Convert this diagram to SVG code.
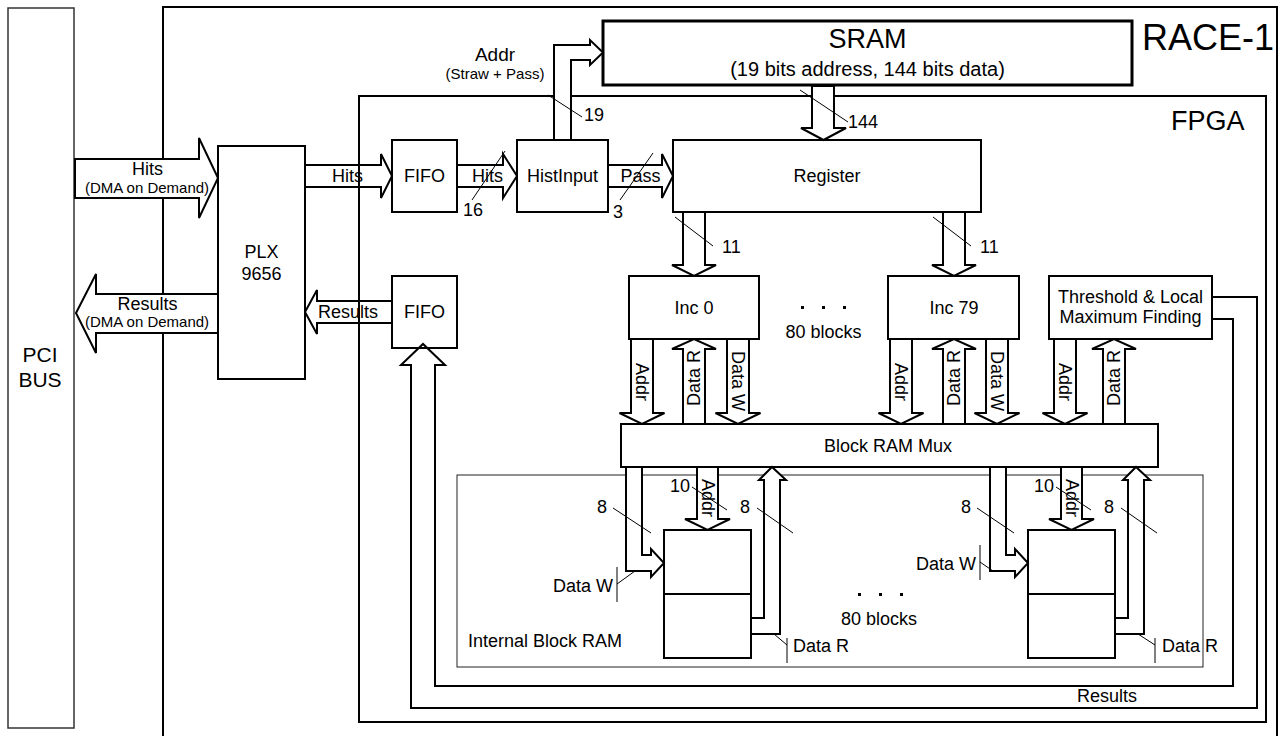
<svg xmlns="http://www.w3.org/2000/svg" width="1288" height="736" viewBox="0 0 1288 736">
<style>
text{font-family:"Liberation Sans",Arial,sans-serif;fill:#000}
.t18{font-size:18px}
.t15{font-size:15px}
.mid{text-anchor:middle}
.end{text-anchor:end}
.box{fill:#fff;stroke:#000;stroke-width:2}
.frame{fill:none;stroke:#000;stroke-width:2}
.thin{fill:none;stroke:#000;stroke-width:1}
.arr{fill:#fff;stroke:#000;stroke-width:2;stroke-linejoin:miter}
.arrn{fill:none;stroke:#000;stroke-width:2}
.sl{stroke:#000;stroke-width:1;fill:none}
</style>
<rect width="1288" height="736" fill="#fff"/>

<!-- frames -->
<g id="pci">
<rect x="8" y="8" width="66" height="720" fill="#fff" stroke="#333" stroke-width="1.5"/>
<text class="mid" x="40" y="362" font-size="21">PCI</text>
<text class="mid" x="40" y="387" font-size="21">BUS</text>
</g>
<g id="race1">
<rect x="163" y="7" width="1114" height="740" class="frame"/>
<text x="1142" y="50" font-size="36">RACE-1</text>
</g>

<!-- big arrows -->
<g id="connectors-outer">
<polygon class="arr" points="75,159 199,159 199,138 218,178 199,218 199,198 75,198"/>
<polygon class="arr" points="218,294 96,294 96,274 76,313 96,353 96,333 218,333"/>
<polygon class="arr" points="305,165 381,165 381,154 392,176 381,198 381,187 305,187"/>
<polygon class="arr" points="392,301 317,301 317,290 305,312 317,334 317,323 392,323"/>
</g>

<g id="fpga-frame">
<rect x="359" y="96" width="907" height="626" class="frame"/>
<text x="1171" y="130" font-size="27">FPGA</text>
</g>
<g id="internal-ram-frame">
<rect x="457" y="475" width="746" height="192" fill="none" stroke="#222" stroke-width="1"/>
<text class="t18" x="468" y="647">Internal Block RAM</text>
</g>

<!-- nodes -->
<g id="sram">
<rect x="603" y="21" width="529" height="64" fill="#fff" stroke="#000" stroke-width="3"/>
<text class="mid" x="867.5" y="48" font-size="27">SRAM</text>
<text class="mid" x="867.5" y="76" font-size="20">(19 bits address, 144 bits data)</text>
</g>
<g id="plx">
<rect class="box" x="218" y="146" width="87" height="233"/>
<text class="mid t18" x="261.5" y="258">PLX</text>
<text class="mid t18" x="261.5" y="280">9656</text>
</g>
<g id="fifo-in">
<rect class="box" x="392" y="140" width="65" height="72"/>
<text class="mid t18" x="424.5" y="182">FIFO</text>
</g>
<g id="fifo-out">
<rect class="box" x="392" y="276" width="65" height="72"/>
<text class="mid t18" x="424.5" y="318">FIFO</text>
</g>
<g id="histinput">
<rect class="box" x="517" y="140" width="91" height="72"/>
<text class="mid t18" x="562.5" y="182">HistInput</text>
</g>
<g id="register">
<rect class="box" x="673" y="140" width="308" height="72"/>
<text class="mid t18" x="827" y="182">Register</text>
</g>
<g id="inc0">
<rect class="box" x="629" y="276" width="130" height="63"/>
<text class="mid t18" x="694" y="314">Inc 0</text>
</g>
<g id="inc79">
<rect class="box" x="888" y="276" width="131" height="63"/>
<text class="mid t18" x="954" y="314">Inc 79</text>
</g>
<g id="threshold">
<rect class="box" x="1049" y="276" width="163" height="63"/>
<text class="mid t18" x="1130.5" y="303">Threshold &amp; Local</text>
<text class="mid t18" x="1130.5" y="323">Maximum Finding</text>
</g>
<g id="mux">
<rect class="box" x="621" y="424" width="537" height="43"/>
<text class="mid t18" x="888" y="452">Block RAM Mux</text>
</g>
<g id="ram0">
<rect class="box" x="664" y="530" width="87" height="128"/>
<line class="arrn" x1="664" y1="594" x2="751" y2="594"/>
</g>
<g id="ram79">
<rect class="box" x="1028" y="530" width="87" height="128"/>
<line class="arrn" x1="1028" y1="594" x2="1115" y2="594"/>
</g>

<!-- connectors -->
<g id="connectors">
<!-- top flow -->
<polygon class="arr" points="457,165 503,165 503,154 517,176 503,198 503,187 457,187"/>
<polygon class="arr" points="608,165 662,165 662,154 673,176 662,198 662,187 608,187"/>
<polygon class="arr" points="554,140 554,45 590,45 590,40 603,52.5 590,65 590,60 571,60 571,140"/>
<polygon class="arr" points="812,86 812,128 801,128 823.5,140 846,128 834,128 834,86"/>
<polygon class="arr" points="683,212 683,265 672,265 694,276 716,265 705,265 705,212"/>
<polygon class="arr" points="943,212 943,265 932,265 954,276 976,265 965,265 965,212"/>

<!-- inc 0 -->
<polygon class="arr" points="631,339 631,413 619.5,413 642,424 664.5,413 653,413 653,339"/>
<polygon class="arr" points="683,424 683,349 672,349 694,339 716,349 705,349 705,424"/>
<polygon class="arr" points="727,339 727,413 715.5,413 738,424 760.5,413 749,413 749,339"/>
<!-- inc 79 -->
<polygon class="arr" points="890,339 890,413 878.5,413 901,424 923.5,413 912,413 912,339"/>
<polygon class="arr" points="943,424 943,349 932,349 954,339 976,349 965,349 965,424"/>
<polygon class="arr" points="986,339 986,413 974.5,413 997,424 1019.5,413 1008,413 1008,339"/>
<!-- threshold -->
<polygon class="arr" points="1054,339 1054,413 1042.5,413 1065,424 1087.5,413 1076,413 1076,339"/>
<polygon class="arr" points="1103,424 1103,349 1092,349 1114,339 1136,349 1125,349 1125,424"/>

<!-- results loop -->
<polygon class="arrn" points="411,708 411,365 401,365 423,344 445,365 435,365 435,686 1233,686 1233,319 1212,319 1212,297 1257,297 1257,708"/>
<text class="mid t18" x="1107" y="702">Results</text>

<!-- RAM 0 -->
<polygon class="arr" points="626,467 626,571 651,571 651,577 664,563 651,549 651,555 642,555 642,467"/>
<polygon class="arr" points="697,467 697,519 685,519 707.5,530 730,519 718,519 718,467"/>
<polygon class="arr" points="751,618 764,618 764,480 759,480 772,467 786,480 780,480 780,634 751,634"/>
<!-- RAM 79 -->
<polygon class="arr" points="990,467 990,571 1015,571 1015,577 1028,563 1015,549 1015,555 1006,555 1006,467"/>
<polygon class="arr" points="1061,467 1061,519 1049,519 1071.5,530 1094,519 1082,519 1082,467"/>
<polygon class="arr" points="1115,618 1128,618 1128,480 1123,480 1136,467 1150,480 1144,480 1144,634 1115,634"/>

<!-- bus width slashes -->
<line class="sl" x1="505" y1="151" x2="472" y2="200"/>
<line class="sl" x1="548" y1="95" x2="582" y2="117"/>
<line class="sl" x1="653" y1="153" x2="620" y2="200"/>
<line class="sl" x1="800" y1="90" x2="848" y2="122"/>
<line class="sl" x1="675" y1="217" x2="713" y2="246"/>
<line class="sl" x1="933" y1="217" x2="971" y2="246"/>
<line class="sl" x1="613" y1="508" x2="651" y2="533"/>
<line class="sl" x1="757" y1="508" x2="793" y2="533"/>
<line class="sl" x1="692" y1="487" x2="727" y2="510"/>
<line class="sl" x1="977" y1="508" x2="1014" y2="533"/>
<line class="sl" x1="1121" y1="508" x2="1157" y2="533"/>
<line class="sl" x1="1056" y1="487" x2="1091" y2="510"/>
<!-- leader lines -->
<line class="sl" x1="617" y1="567" x2="617" y2="602" stroke-width="1.5"/>
<line class="sl" x1="617" y1="584" x2="635" y2="571"/>
<line class="sl" x1="980" y1="545" x2="980" y2="580" stroke-width="1.5"/>
<line class="sl" x1="980" y1="562" x2="993" y2="571"/>
<line class="sl" x1="774" y1="634" x2="787" y2="645"/>
<line class="sl" x1="787" y1="638" x2="787" y2="663" stroke-width="1.5"/>
<line class="sl" x1="1138" y1="634" x2="1155" y2="645"/>
<line class="sl" x1="1155" y1="638" x2="1155" y2="663" stroke-width="1.5"/>
</g>

<!-- labels -->
<g id="labels">
<text class="mid t18" x="147.5" y="175">Hits</text>
<text class="mid t15" x="147" y="193">(DMA on Demand)</text>
<text class="mid t18" x="147.5" y="310">Results</text>
<text class="mid t15" x="147" y="327">(DMA on Demand)</text>
<text class="mid t18" x="347.5" y="182">Hits</text>
<text class="mid t18" x="348" y="318">Results</text>
<text class="mid t18" x="487.5" y="182">Hits</text>
<text class="mid t18" x="640.5" y="182">Pass</text>
<text class="t18" x="463" y="216">16</text>
<text class="t18" x="613" y="218">3</text>
<text class="t18" x="584" y="121">19</text>
<text class="mid" x="495" y="61" font-size="19">Addr</text>
<text class="mid t15" x="495" y="79">(Straw + Pass)</text>
<text class="t18" x="848" y="128">144</text>
<text class="t18" x="722" y="253">11</text>
<text class="t18" x="980" y="253">11</text>
<text class="mid t18" x="823.5" y="338">80 blocks</text>
<text class="mid t18" x="879" y="625">80 blocks</text>
<g fill="#000">
<rect x="801" y="306" width="3" height="3"/><rect x="822" y="306" width="3" height="3"/><rect x="843" y="306" width="3" height="3"/>
<rect x="858" y="593" width="3" height="3"/><rect x="879" y="593" width="3" height="3"/><rect x="900" y="593" width="3" height="3"/>
</g>
<!-- rotated arrow labels -->
<text class="mid t18" transform="translate(642,382) rotate(90)" dy="6">Addr</text>
<text class="mid t18" transform="translate(694,378) rotate(-90)" dy="6">Data R</text>
<text class="mid t18" transform="translate(738,381) rotate(90)" dy="6">Data W</text>
<text class="mid t18" transform="translate(901,382) rotate(90)" dy="6">Addr</text>
<text class="mid t18" transform="translate(954,378) rotate(-90)" dy="6">Data R</text>
<text class="mid t18" transform="translate(997,381) rotate(90)" dy="6">Data W</text>
<text class="mid t18" transform="translate(1065,382) rotate(90)" dy="6">Addr</text>
<text class="mid t18" transform="translate(1114,378) rotate(-90)" dy="6">Data R</text>
<text class="mid t18" transform="translate(707.5,498) rotate(90)" dy="6">Addr</text>
<text class="mid t18" transform="translate(1071.5,498) rotate(90)" dy="6">Addr</text>
<text class="t18" x="597" y="513">8</text>
<text class="t18" x="740" y="513">8</text>
<text class="t18" x="670" y="492">10</text>
<text class="t18" x="961" y="513">8</text>
<text class="t18" x="1104" y="513">8</text>
<text class="t18" x="1034" y="492">10</text>
<text class="end t18" x="613" y="592">Data W</text>
<text class="end t18" x="976" y="570">Data W</text>
<text class="t18" x="793" y="652">Data R</text>
<text class="t18" x="1162" y="652">Data R</text>
</g>
</svg>
